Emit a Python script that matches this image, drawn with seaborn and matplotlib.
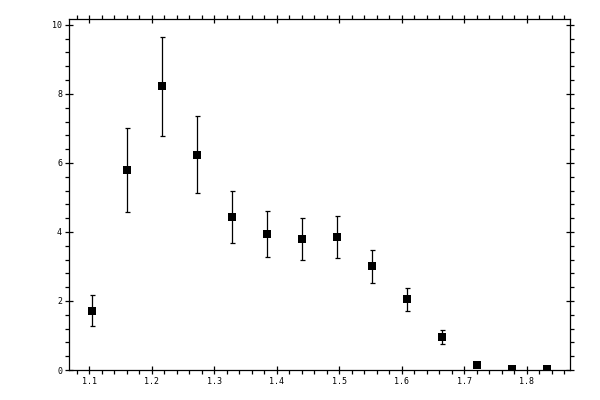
import matplotlib
matplotlib.use("Agg")
import matplotlib.pyplot as plt
from matplotlib.ticker import MultipleLocator
import seaborn as sns
import pandas as pd

x_vals = [1.105, 1.161, 1.217, 1.273, 1.329, 1.385, 1.441, 1.497, 1.553, 1.609, 1.665, 1.721, 1.777, 1.833]
y_vals = [1.72, 5.79, 8.22, 6.24, 4.43, 3.93, 3.79, 3.85, 3.00, 2.05, 0.95, 0.14, 0.02, 0.02]
y_err = [0.45, 1.22, 1.43, 1.11, 0.75, 0.67, 0.61, 0.60, 0.48, 0.33, 0.20, 0.0, 0.0, 0.0]

df = pd.DataFrame({"x": x_vals, "y": y_vals, "err": y_err})

sns.set_style("white")
plt.rcParams['font.family'] = ['DejaVu Sans Mono', 'DejaVu Sans']

fig = plt.figure(figsize=(6, 4), dpi=100)
ax = fig.add_axes([0.115, 0.075, 0.835, 0.8775])

ax.errorbar(df["x"], df["y"], yerr=df["err"], fmt="none", ecolor="black",
            elinewidth=0.9, capsize=1.8, capthick=0.9, zorder=2)
sns.scatterplot(data=df, x="x", y="y", marker="s", s=34, color="black",
                edgecolor="black", linewidth=0, ax=ax, zorder=3)

ax.set_xlim(1.0675, 1.869)
ax.set_ylim(0, 10.17)
ax.set_xlabel("")
ax.set_ylabel("")

ax.xaxis.set_major_locator(MultipleLocator(0.1))
ax.xaxis.set_minor_locator(MultipleLocator(0.02))
ax.yaxis.set_major_locator(MultipleLocator(2))
ax.yaxis.set_minor_locator(MultipleLocator(0.4))
ax.xaxis.set_major_formatter(matplotlib.ticker.FormatStrFormatter("%.1f"))
ax.yaxis.set_major_formatter(matplotlib.ticker.FormatStrFormatter("%d"))

for s in ax.spines.values():
    s.set_color("black")
    s.set_linewidth(0.9)

ax.tick_params(which="major", direction="inout", length=6, width=0.9,
               top=True, right=True, bottom=True, left=True,
               labelsize=6, colors="black", pad=2)
ax.tick_params(which="minor", direction="out", length=2.6, width=0.9,
               top=True, right=True, bottom=True, left=True, colors="black")

fig.savefig("out.png", dpi=100, facecolor="white")
